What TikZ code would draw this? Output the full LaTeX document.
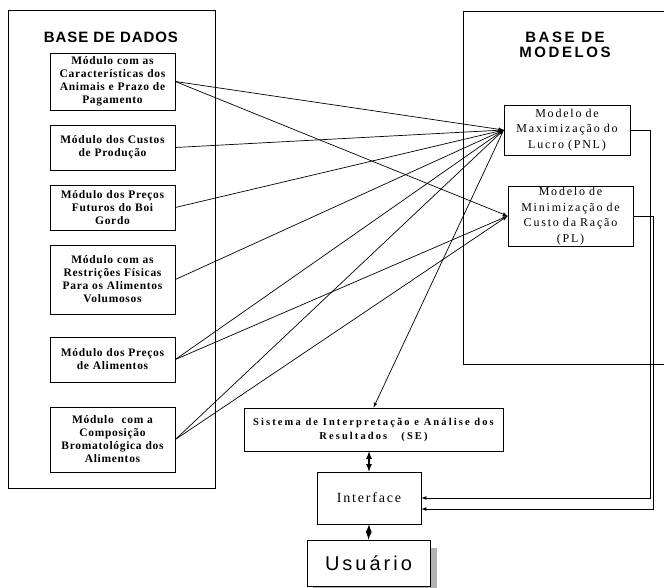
\documentclass[tikz,border=0pt]{standalone}
\usepackage{fontspec}
\setmainfont{Liberation Serif}
\newfontfamily\titulo{Liberation Sans}
\usetikzlibrary{positioning}
\usetikzlibrary{arrows,shapes}
\usetikzlibrary{calc}

\begin{document}
\begin{tikzpicture}[x=1pt, y=-1pt, line width=0.7pt, >=latex,
    modulo/.style={draw, minimum width=125pt, text width=123pt, inner sep=1pt, align=center,
      font=\bfseries\fontsize{11.5}{13}\selectfont\addfontfeature{LetterSpace=6}},
    modelo/.style={draw, minimum width=125pt, text width=121pt, inner sep=1pt, align=center,
      font=\fontsize{12}{15.5}\selectfont\addfontfeature{LetterSpace=15}}]

  \useasboundingbox (0,0) rectangle (664,588);

  \def\mx{112.5};

	%base de dados
  \draw (8,10) rectangle (215,488);
  \node[font=\titulo\bfseries\fontsize{15}{15}\selectfont\addfontfeature{LetterSpace=6}] (tdados) at (111,37) {BASE DE DADOS};

    \foreach \i/\y/\h/\txt in {1/81.5/57/{Módulo com as\\Características dos\\Animais e Prazo de\\Pagamento},
                               2/147.5/45/{Módulo dos Custos\\de Produção},
                               3/207.5/45/{Módulo dos Preços\\Futuros do Boi\\Gordo},
                               4/279.5/69/{Módulo com as\\Restrições Físicas\\Para os Alimentos\\Volumosos},
                               5/359.5/45/{Módulo dos Preços\\de Alimentos},
                               6/439.5/65/{Módulo \ com a\\Composição\\Bromatológica dos\\Alimentos}}{
         \node[modulo, minimum height=\h pt] (m\i) at (\mx,\y) {\txt};
    }

	%base de modelos
  \draw (664,11) -- (463,11) -- (463,364) -- (664,364);
  \node[align=center, font=\titulo\bfseries\fontsize{15}{15}\selectfont\addfontfeature{LetterSpace=17}] (tmodelos) at (565,45) {BASE DE\\MODELOS};

  \node[modelo, minimum width=126pt, minimum height=50pt] (pnl) at (567,130) {Modelo de\\Maximização do\\Lucro (PNL)};
  \node[modelo, minimum height=60pt] (pl) at (570.5,216) {Modelo de\\Minimização de\\Custo da Ração\\(PL)};

	%sistema, interface e usuario
  \node[draw, minimum width=259pt, minimum height=43pt, align=center,
        font=\bfseries\fontsize{10.5}{14}\selectfont\addfontfeature{LetterSpace=20}] (sis) at (373.5,429.5)
        {Sistema de Interpretação e Análise dos\\Resultados \ \ (SE)};
  \node[draw, minimum width=104pt, minimum height=52pt,
        font=\fontsize{14}{14}\selectfont\addfontfeature{LetterSpace=13}] (int) at (369,498) {Interface};
  \fill[gray!60] (313,548) rectangle (437,592);
  \node[draw, fill=white, minimum width=123pt, minimum height=46pt,
        font=\titulo\fontsize{20}{20}\selectfont\addfontfeature{LetterSpace=15}] (usr) at (368.5,563) {Usuário};

	%ligacoes
    \foreach \m in {1,2,3,4,5,6}{
         \draw[->] (m\m.east) -- (pnl.west);
    }
    \foreach \m in {1,5,6}{
         \draw[->] (m\m.east) -- (pl.west);
    }
  \draw[->] (pnl.west) -- (sis.north);
  \draw[->] (pnl.east) -- ++(20,0) |- (int.east);
  \draw[->] (pl.east) -- ++(20,0) |- ($(int.east)+(0,11)$);

  \draw[<->, line width=1.6pt] (sis.south -| int.north) -- (int.north);
  \draw[<->, line width=1.6pt] (int.south) -- (usr.north);

\end{tikzpicture}
\end{document}
